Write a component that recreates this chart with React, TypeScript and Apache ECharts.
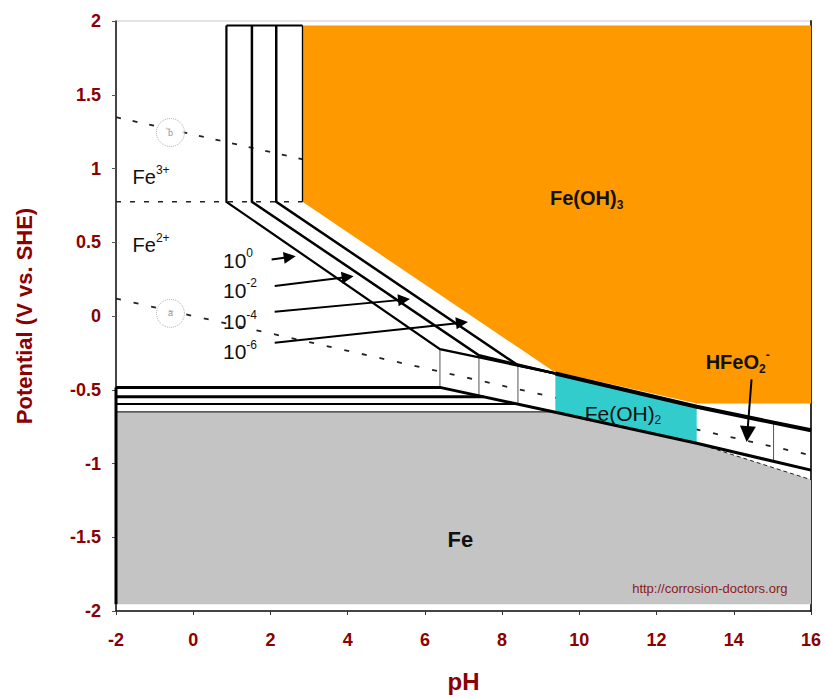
import React, { useEffect, useRef } from 'react';
import * as echarts from 'echarts';

const FONT = '"Liberation Sans", Arial, sans-serif';
const RED = '#8B0000';

// ---- axis ----
const X_MIN = -2, X_MAX = 16, X_STEP = 2;
const Y_MIN = -2, Y_MAX = 2, Y_STEP = 0.5;

// ---- stability regions (pH, E) ----
const orangeRegion = [[2.83, 1.97], [16, 1.97], [16, -0.594], [13.04, -0.594], [9.33, -0.375], [2.83, 0.774]];
const cyanRegion = [[9.38, -0.39], [13.04, -0.615], [13.04, -0.863], [9.38, -0.652]];
const grayRegion = [[-2, -0.652], [9.38, -0.652], [13.04, -0.863], [16, -1.11], [16, -1.955], [-2, -1.955]];

// ---- water lines & Fe3+/Fe2+ ----
const hydrogenLine = [[-2, 0.118], [16, -0.944]];
const oxygenLine = [[-2, 1.348], [16, 0.286]];
const fe32Line = [[-2, 0.774], [2.83, 0.774]];
const grayEdgeLine = [[13.04, -0.863], [16, -1.11]];

// ---- solid boundaries ----
const feLine0 = [[-2, -0.484], [6.39, -0.484], [9.38, -0.652], [13.04, -0.863], [16, -1.045]];
const feLine2 = [[-2, -0.547], [7.52, -0.547]];
const feLine4 = [[-2, -0.597], [8.41, -0.597]];
const feLine6 = [[-2, -0.65], [9.38, -0.65]];
const leftEdge = [[-2, -0.484], [-2, -1.955]];
const l1Line = [[0.86, 1.97], [0.86, 0.774], [6.39, -0.225], [9.38, -0.39]];
const l2Line = [[1.52, 1.97], [1.52, 0.774], [7.4, -0.266], [9.38, -0.39]];
const l3Line = [[2.15, 1.97], [2.15, 0.774], [8.41, -0.334], [9.38, -0.39]];
const l4Line = [[2.83, 1.97], [2.83, 0.774]];
const topLine = [[0.86, 1.97], [2.83, 1.97]];
const hydroxideLine = [[9.38, -0.39], [13.04, -0.615], [16, -0.775]];
const bandVerticals = [
  [[6.39, -0.225], [6.39, -0.484]],
  [[7.4, -0.281], [7.4, -0.541]],
  [[8.41, -0.337], [8.41, -0.597]],
  [[15.03, -0.722], [15.03, -0.985]],
];

// ---- arrows ----
const concArrows = [
  [[2.03, 0.383], [2.5, 0.4]],
  [[2.11, 0.203], [4.0, 0.264]],
  [[2.11, 0.029], [5.46, 0.111]],
  [[2.11, -0.182], [6.96, -0.045]],
];
const hfeArrow = [[14.46, -0.43], [14.35, -0.8]];

// ---- circle markers ----
const circleMarks = [
  { name: 'b', value: [-0.59, 1.244] },
  { name: 'a', value: [-0.59, 0.018] },
];

// ---- text labels ----
const labelTexts = [
  { text: '{m|Fe}{sup|3+}', at: [-1.57, 0.943], align: 'left' },
  { text: '{m|Fe}{sup|2+}', at: [-1.57, 0.48], align: 'left' },
  { text: '{c|10}{cs|0}', at: [0.77, 0.379], align: 'left' },
  { text: '{c|10}{cs|-2}', at: [0.77, 0.175], align: 'left' },
  { text: '{c|10}{cs|-4}', at: [0.77, -0.039], align: 'left' },
  { text: '{c|10}{cs|-6}', at: [0.77, -0.243], align: 'left' },
  { text: '{b|Fe(OH)}{bs|3}', at: [10.19, 0.797], align: 'center' },
  { text: '{n|Fe(OH)}{ns|2}', at: [11.13, -0.66], align: 'center' },
  { text: '{b|HFeO}{bs|2}{bsup|-}', at: [14.1, -0.31], align: 'center' },
  { text: '{big|Fe}', at: [6.92, -1.514], align: 'center' },
  { text: '{url|http://corrosion-doctors.org}', at: [13.38, -1.846], align: 'center' },
];

const rich = {
  m: { fontSize: 20, fontFamily: FONT, fill: '#111', verticalAlign: 'middle', lineHeight: 26 },
  sup: { fontSize: 12, fontFamily: FONT, fill: '#111', verticalAlign: 'top', lineHeight: 12 },
  c: { fontSize: 21, fontFamily: FONT, fill: '#111', verticalAlign: 'middle', lineHeight: 26 },
  cs: { fontSize: 12, fontFamily: FONT, fill: '#111', verticalAlign: 'top', lineHeight: 12 },
  b: { fontSize: 20, fontWeight: 'bold', fontFamily: FONT, fill: '#111', verticalAlign: 'middle', lineHeight: 26 },
  bs: { fontSize: 12, fontWeight: 'bold', fontFamily: FONT, fill: '#111', verticalAlign: 'bottom', lineHeight: 12 },
  bsup: { fontSize: 12, fontWeight: 'bold', fontFamily: FONT, fill: '#111', verticalAlign: 'top', lineHeight: 12 },
  n: { fontSize: 21, fontFamily: FONT, fill: '#111', verticalAlign: 'middle', lineHeight: 26 },
  ns: { fontSize: 12, fontFamily: FONT, fill: '#111', verticalAlign: 'bottom', lineHeight: 12 },
  big: { fontSize: 22, fontWeight: 'bold', fontFamily: FONT, fill: '#111' },
  url: { fontSize: 13, fontFamily: '"Liberation Sans Narrow", "Arial Narrow", ' + FONT, fill: '#8B1A1A' },
};

function solid(data: number[][], width: number, color = '#000', z = 5) {
  return {
    type: 'line', data, symbol: 'none', silent: true, z, animation: false,
    lineStyle: { color, width, cap: 'butt', join: 'miter' },
  };
}
function dashed(data: number[][], width: number, dash: number[], z = 1) {
  return {
    type: 'line', data, symbol: 'none', silent: true, z, animation: false,
    lineStyle: { color: '#222', width, type: dash },
  };
}

export default function App() {
  const ref = useRef<HTMLDivElement>(null);
  useEffect(() => {
    const chart = echarts.init(ref.current!, null, { renderer: 'svg' });
    const regions = [
      { pts: orangeRegion, color: '#FF9900' },
      { pts: cyanRegion, color: '#33CCCC' },
      { pts: grayRegion, color: '#C4C4C4' },
    ];
    const option: any = {
      animation: false,
      grid: { left: 116, top: 21, right: 14, bottom: 85, show: true, borderColor: '#c8c8c8', borderWidth: 1, backgroundColor: 'transparent' },
      xAxis: {
        type: 'value', min: X_MIN, max: X_MAX, interval: X_STEP,
        axisLine: { onZero: false, lineStyle: { color: '#111', width: 1.5 } },
        axisTick: { show: true, length: 4, lineStyle: { color: '#333' } },
        axisLabel: { color: RED, fontWeight: 'bold', fontSize: 18, margin: 20, fontFamily: FONT },
        splitLine: { show: false },
        name: 'pH', nameLocation: 'middle', nameGap: 58,
        nameTextStyle: { color: RED, fontWeight: 'bold', fontSize: 24, fontFamily: FONT },
      },
      yAxis: [
        {
          type: 'value', min: Y_MIN, max: Y_MAX, interval: Y_STEP,
          axisLine: { onZero: false, lineStyle: { color: '#111', width: 1.5 } },
          axisTick: { show: true, length: 4, lineStyle: { color: '#555' } },
          axisLabel: { color: RED, fontWeight: 'bold', fontSize: 18, margin: 15, fontFamily: FONT },
          splitLine: { show: false },
          name: 'Potential (V vs. SHE)', nameLocation: 'middle', nameGap: 81,
          nameTextStyle: { color: RED, fontWeight: 'bold', fontSize: 22, fontFamily: FONT },
        },
        {
          type: 'value', min: Y_MIN, max: Y_MAX, interval: Y_STEP, position: 'right',
          axisLine: { show: true, onZero: false, lineStyle: { color: '#333', width: 2 } },
          axisTick: { show: false }, axisLabel: { show: false }, splitLine: { show: false },
        },
      ],
      series: [
        dashed(oxygenLine, 1.8, [5, 12]),
        dashed(hydrogenLine, 1.8, [5, 13]),
        dashed(fe32Line, 1.5, [5, 9]),
        {
          type: 'custom', z: 2, silent: true,
          data: regions.map((_, i) => [i]),
          renderItem: (params: any, api: any) => {
            const r = regions[params.dataIndex];
            return {
              type: 'polygon',
              shape: { points: r.pts.map((p) => api.coord(p)) },
              style: { fill: r.color, stroke: 'none' },
            };
          },
        },
        dashed(grayEdgeLine, 1, [4, 3], 4),
        solid(feLine6, 1.2, '#222'),
        solid(feLine4, 2),
        solid(feLine2, 3),
        solid(feLine0, 3),
        solid(leftEdge, 3),
        solid(l1Line, 2.2),
        solid(l2Line, 2.5),
        solid(l3Line, 2.5),
        solid(l4Line, 1.3),
        solid(topLine, 2),
        solid(hydroxideLine, 4),
        ...bandVerticals.map((v) => solid(v, 1, '#555', 4)),
        {
          type: 'lines', coordinateSystem: 'cartesian2d', z: 6, silent: true,
          symbol: ['none', 'triangle'], symbolSize: 12,
          lineStyle: { color: '#000', width: 2, opacity: 1 },
          data: concArrows.map((c) => ({ coords: c })),
        },
        {
          type: 'lines', coordinateSystem: 'cartesian2d', z: 6, silent: true,
          symbol: ['none', 'triangle'], symbolSize: 16,
          lineStyle: { color: '#000', width: 2, opacity: 1 },
          data: [{ coords: hfeArrow }],
        },
        {
          type: 'scatter', z: 6, silent: true, symbol: 'circle', symbolSize: 28,
          itemStyle: { color: '#fff', borderColor: '#999', borderWidth: 1, borderType: 'dotted' },
          label: { show: true, position: 'inside', formatter: '{b}', fontSize: 9, color: '#777', fontFamily: FONT },
          data: circleMarks,
        },
        {
          type: 'custom', z: 7, silent: true,
          data: labelTexts.map((_, i) => [i]),
          renderItem: (params: any, api: any) => {
            const t = labelTexts[params.dataIndex];
            const [px, py] = api.coord(t.at);
            return {
              type: 'text', x: px, y: py,
              style: { text: t.text, rich, align: t.align, verticalAlign: 'middle' },
            };
          },
        },
      ],
    };
    chart.setOption(option);
    return () => chart.dispose();
  }, []);
  return <div ref={ref} style={{ position: 'absolute', left: 0, top: 0, width: 825, height: 698 }} />;
}
